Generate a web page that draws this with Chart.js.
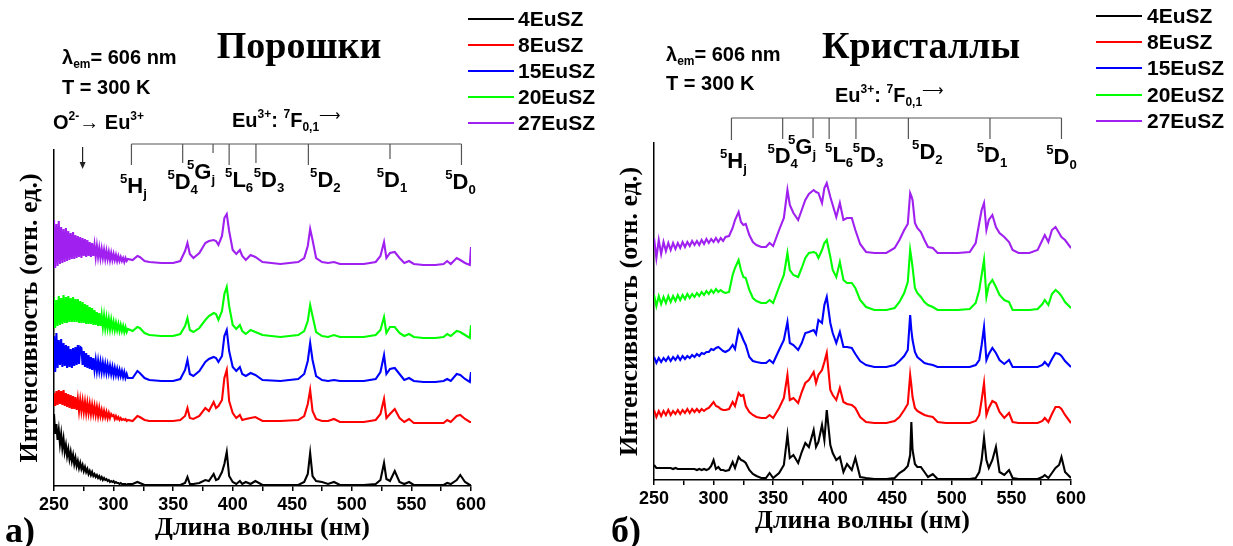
<!DOCTYPE html>
<html><head><meta charset="utf-8">
<script src="https://cdn.jsdelivr.net/npm/chart.js@4.4.0/dist/chart.umd.min.js"></script>
<style>
html,body{margin:0;padding:0;background:#fff;}
#wrap{position:relative;width:1233px;height:546px;overflow:hidden;font-family:"Liberation Sans",Arial,sans-serif;}
canvas{position:absolute;top:0;}
.t{position:absolute;white-space:nowrap;font-weight:bold;color:#000;}
.ann{font-size:20px;line-height:22px;}
.ttl{font-family:"Liberation Serif","Times New Roman",serif;font-size:38px;line-height:44px;transform:translate(-50%,-50%);}
.pan{font-family:"Liberation Serif","Times New Roman",serif;font-size:36px;line-height:40px;}
.t sup{font-size:0.6em;line-height:0;vertical-align:0.75em;}
.t sub{font-size:0.6em;line-height:0;vertical-align:-0.35em;}
.t .arr{font-size:15px;font-weight:normal;vertical-align:0.45em;line-height:0;}
.leg{font-size:21px;line-height:22px;}
.legline{position:absolute;height:2px;}
.term{font-size:22px;line-height:26px;transform:translate(-50%,-50%);}
</style></head><body>
<div id="wrap">
<canvas id="c1" width="615" height="546" style="left:0px"></canvas>
<canvas id="c2" width="633" height="546" style="left:600px"></canvas>
</div>
<script>
// ---------- data ----------
const sampleNames = ['4EuSZ','8EuSZ','15EuSZ','20EuSZ','27EuSZ'];
const xTickStep = 25;
const xLabelStep = 50;

const powderWavelengths = [250,251,252,253,254,255,256,257,258,259,260,261,262,263,264,265,266,267,268,269,270,271,272,273,274,275,276,277,278,279,280,281,282,283,284,285,286,287,288,289,290,291,292,293,294,295,296,297,298,299,300,301,302,303,304,305,306,307,308,309,310,311,312,
316,320,322,326,330,340,350,356,360,362,364,367,372,377,380,384,386,388,391,393,395,397,400,403,406,408,411,415,419,425,440,455,460,463,465,467,470,475,480,485,490,500,510,520,524,527,529,532,536,540,544,548,552,560,570,577,580,583,588,591,595,599,600];

const powder4EuSZ = [72,52,62,46,56,42,52,38,47,34, 41,30,37,27,34,25,31,22,28,20, 25,18,23,17,21,15,19,14,17,12, 15,11,14,10,12,9,11,8,10,7, 9,6,8,6,7,5,6,4,5,4, 5,3,4,3,3,2,3,2,2,2, 2,1,2,
2,4,3,1,1,1,1,1,3,9, 2,2,3,6,5,12,6,7,14,22, 34,10,4,2,5,2,4,2,5,1, 1,1,4,12,33,10,5,4,2,4, 1,1,1,2,6,23,7,5,15,4, 2,4,1,1,1,1,3,2,6,11, 4,1,1];
const powder8EuSZ = [93,80,95,81,96,82,95,81,96,80, 93,79,92,78,91,77,90,77,89,76, 87,75,86,75,85,74,84,73,83,73, 82,72,81,72,80,71,79,70,78,70, 76,69,75,69,74,68,73,68,72,70, 71,67,70,67,69,66,68,66,67,66, 67,65,66,
65,70,69,66,65,65,65,66,70,78, 68,67,70,78,75,84,78,80,86,108, 116,85,73,68,71,66,67,68,69,65, 65,66,70,82,96,75,67,65,65,67, 64,64,64,66,72,87,68,72,77,68, 64,67,63,63,63,63,66,64,70,71, 67,64,64];
const powder15EuSZ = [150,114,153,118,146,121,147,119,143,120, 141,118,140,119,137,118,138,120,139,121, 141,122,139,138,121,135,119,133,118,131, 117,129,116,128,116,126,115,125,115,124, 114,123,114,122,113,121,113,120,112,119, 111,118,111,117,110,116,110,115,109,114, 108,112,108,
108,115,113,108,106,105,105,107,116,126, 112,110,115,124,127,129,128,124,130,150, 156,135,119,115,119,112,110,113,111,106, 105,107,112,125,143,126,110,106,105,106, 105,105,105,107,114,131,112,117,118,112, 106,108,105,104,104,105,107,105,112,111, 107,104,114];
const powder20EuSZ = [189,158,186,160,190,161,188,162,191,163, 189,163,190,164,188,164,189,164,187,164, 187,163,185,163,184,163,182,162,181,162, 179,162,178,161,176,161,174,160,173,160, 171,159,170,158,168,158,167,157,166,157, 164,156,163,156,162,155,161,155,160,154, 159,154,157,
155,159,158,153,151,150,150,152,160,168, 156,154,158,166,170,173,172,166,175,192, 199,180,161,157,161,155,152,156,154,151, 149,151,155,165,181,170,154,150,149,151, 149,149,149,151,156,169,153,159,159,153, 150,152,149,148,148,149,152,150,155,154, 151,148,161];
const powder27EuSZ = [266,218,262,220,265,222,259,223,257,224, 258,225,255,226,253,227,254,227,251,228, 250,229,249,228,248,230,247,229,246,230, 244,229,243,230,241,229,240,229,238,228, 237,228,236,227,235,227,234,226,233,226, 232,226,231,225,230,225,229,225,228,224, 228,225,227,
226,230,229,225,224,223,223,225,235,243, 232,228,233,243,245,246,245,241,250,268, 272,255,236,232,236,230,226,231,229,224, 222,224,228,240,257,246,228,224,223,224, 222,222,222,224,230,244,228,233,234,228, 223,225,222,221,221,222,225,222,228,226, 223,221,239];

const crystalWavelengths = [250,252,254,256,258,260,262,264,266,268,270,272,274,276,278,280,282,284,286,288,290,292,294,296,298,300,302,304,306,308,310,
313,316,318,321,323,325,327,330,333,336, 340,344,347,350,355,359,362,364,367,371, 374,377,380,384,386,388,391,393,395,398, 400,403,406,409,412,416,419,423,428,435, 445,452,456,460,463,465,466,467,469,471, 474,477,480,484,488,495,505,515,520,523, 525,527,529,531,534,537,540,544,548,551, 556,565,572,576,578,581,584,587,590,592, 595,600];

const crystal4EuSZ = [15,12,12,12,12,12,12,12,11,12, 11,11,11,11,11,11,11,11,10,11, 10,11,10,11,14,20,11,13,10,10, 9,
10,18,12,23,20,19,17,10,6,4, 2,2,7,2,7,15,45,22,25,17, 28,37,33,50,33,38,55,40,70,35, 27,20,23,8,16,10,22,3,2,1, 1,2,7,10,14,25,58,30,16,13, 13,8,3,6,1,1,1,1,2,8, 20,42,20,12,20,33,8,5,10,2, 1,1,1,3,5,2,7,12,15,23, 8,2];
const crystal8EuSZ = [70,63,69,64,69,65,70,65,69,66, 70,66,70,67,71,67,71,68,71,68, 71,69,71,72,75,78,74,73,71,70, 70,
71,78,74,87,84,85,74,68,65,63, 62,62,65,62,72,82,105,80,82,77, 88,97,100,108,97,105,110,118,127,90, 85,80,92,78,76,75,72,63,58,57, 57,59,63,70,76,105,95,83,72,69, 67,65,64,63,58,57,57,57,59,65, 80,97,65,72,79,77,68,62,67,58, 57,57,57,59,62,58,66,73,73,71, 65,57];
const crystal15EuSZ = [123,117,122,118,122,119,123,119,123,120, 124,120,124,121,124,122,125,123,126,124, 127,126,128,128,131,130,132,133,131,129, 128,
130,135,131,150,146,140,135,123,119,118, 117,117,120,117,130,140,158,137,135,130, 137,147,148,150,146,160,157,175,183,157, 147,137,148,133,133,132,126,119,115,113, 113,115,119,124,130,165,150,140,128,123, 120,117,116,115,113,113,113,113,115,120, 135,153,120,126,132,127,120,116,120,113, 113,113,113,115,118,114,121,127,126,124, 119,113];
const crystal20EuSZ = [185,174,184,176,183,177,184,178,184,179, 185,180,185,181,186,182,186,183,187,184, 188,185,189,186,190,187,191,188,190,188, 187,
188,205,212,220,210,203,202,190,182,179, 177,177,180,177,193,205,227,210,205,203, 212,222,227,228,227,222,230,237,240,223, 210,203,218,200,197,197,192,180,173,170, 170,172,178,187,198,230,222,213,192,187, 183,178,175,173,170,170,170,171,177,190, 205,220,183,195,200,193,185,180,178,170, 170,170,171,176,180,175,186,190,187,184, 178,172];
const crystal27EuSZ = [242,222,240,226,238,229,237,230,237,231, 237,232,238,233,238,234,239,235,239,235, 240,236,241,237,241,238,242,238,242,239, 243,
244,252,260,268,258,255,256,245,238,235, 233,233,237,234,250,262,290,275,267,260, 270,280,286,290,288,287,277,292,297,283, 275,263,277,260,262,262,250,236,228,227, 227,232,240,250,256,287,284,280,257,252, 248,240,233,232,227,227,227,228,237,257, 270,277,250,260,265,253,247,243,238,230, 227,227,230,240,245,238,250,253,247,243, 240,232];

// Eu3+ 7F0,1 -> term positions (nm) for the annotation bracket
const termWavelengths = [315, 358, 383.5, 397, 419.5, 463.5, 532, 592];
const termLetters = ['H','D','G','L','D','D','D','D'];
const termSubs = ['j','4','j','6','3','2','1','0'];
const chargeTransferWavelength = 274;

// ---------- styles ----------
const seriesColors = ['#000000','#ff0000','#0000ff','#00ff00','#a020f0'];
const wrap = document.getElementById('wrap');

const bracketPlugin = {
  id: 'bracket',
  afterDraw(chart, args, o) {
    const xs = chart.scales.x, ctx = chart.ctx;
    const px = termWavelengths.map(w => xs.getPixelForValue(w));
    ctx.save();
    ctx.strokeStyle = '#555'; ctx.lineWidth = 1.2;
    ctx.beginPath();
    ctx.moveTo(px[0], o.y); ctx.lineTo(px[px.length - 1], o.y);
    px.forEach((p, i) => { ctx.moveTo(p, o.y); ctx.lineTo(p, o.y + o.len[i]); });
    ctx.stroke();
    if (o.arrow) {
      const ax = xs.getPixelForValue(chargeTransferWavelength);
      ctx.strokeStyle = '#222'; ctx.fillStyle = '#222'; ctx.lineWidth = 1.2;
      ctx.beginPath(); ctx.moveTo(ax, o.arrow[0]); ctx.lineTo(ax, o.arrow[1] - 5); ctx.stroke();
      ctx.beginPath(); ctx.moveTo(ax - 3, o.arrow[1] - 7); ctx.lineTo(ax + 3, o.arrow[1] - 7); ctx.lineTo(ax, o.arrow[1]); ctx.closePath(); ctx.fill();
    }
    ctx.restore();
  }
};

function makeChart(id, wl, seriesList, p) {
  const datasets = seriesList.map((s, i) => ({
    label: sampleNames[i],
    data: wl.map((x, j) => ({x: x, y: s[j]})),
    borderColor: seriesColors[i],
    borderWidth: 2.1,
    pointRadius: 0,
    fill: false,
    tension: 0
  }));
  return new Chart(document.getElementById(id), {
    type: 'line',
    data: {datasets: datasets},
    plugins: [bracketPlugin],
    options: {
      responsive: false,
      animation: false,
      events: [],
      layout: {padding: {top: p.top, right: p.right, left: 0, bottom: 0}},
      plugins: {
        legend: {display: false},
        tooltip: {enabled: false},
        bracket: {y: p.bracketY, len: p.len, arrow: p.arrow}
      },
      scales: {
        x: {
          type: 'linear', min: 250, max: 600, position: 'bottom',
          afterFit: s => { s.height = p.xh; },
          border: {display: true, color: '#000', width: 1.5},
          grid: {display: true, drawOnChartArea: false, drawTicks: true, tickLength: 5, color: '#000', lineWidth: 1.5},
          ticks: {stepSize: xTickStep, autoSkip: false, maxRotation: 0, color: '#000', padding: 3,
            font: {family: 'Liberation Sans', weight: 'bold', size: 18},
            callback: v => (v % xLabelStep === 0 ? String(v) : '')},
          title: {display: true, text: 'Длина волны (нм)', color: '#000',
            font: {family: 'Liberation Serif', weight: 'bold', size: 26}, padding: {top: 0, bottom: p.titleB}}
        },
        y: {
          min: 0, max: p.ymax, position: 'left',
          afterFit: s => { s.width = 54; },
          border: {display: true, color: '#000', width: 1.5},
          grid: {display: false},
          ticks: {display: false},
          title: {display: true, text: 'Интенсивность (отн. ед.)', color: '#000',
            font: {family: 'Liberation Serif', weight: 'bold', size: 26}, padding: {top: 15, bottom: 0}}
        }
      }
    }
  });
}

const chart1 = makeChart('c1', powderWavelengths,
  [powder4EuSZ, powder8EuSZ, powder15EuSZ, powder20EuSZ, powder27EuSZ],
  {top: 150, right: 144, xh: 60, ymax: 336, titleB: 2, bracketY: 144,
   len: [21, 19, 9, 21, 19, 21, 15, 21], arrow: [147, 169]});
const chart2 = makeChart('c2', crystalWavelengths,
  [crystal4EuSZ, crystal8EuSZ, crystal15EuSZ, crystal20EuSZ, crystal27EuSZ],
  {top: 143, right: 162, xh: 66, ymax: 337, titleB: 9, bracketY: 118,
   len: [22, 21, 20, 21, 21, 21, 21, 21], arrow: null});

// ---------- text overlays ----------
function addText(html, cls, left, top) {
  const d = document.createElement('div');
  d.className = 't ' + cls;
  d.innerHTML = html;
  d.style.left = left + 'px';
  d.style.top = top + 'px';
  wrap.appendChild(d);
  return d;
}
function addLegend(x1, len, textX, rows) {
  sampleNames.forEach((n, i) => {
    const l = document.createElement('div');
    l.className = 'legline';
    l.style.left = x1 + 'px'; l.style.width = len + 'px';
    l.style.top = (rows[i] - 1) + 'px';
    l.style.background = seriesColors[i];
    wrap.appendChild(l);
    addText(n, 'leg', textX, rows[i] - 11);
  });
}
function placeTerms(chart, offsetLeft, dx, ys) {
  const xs = chart.scales.x;
  termWavelengths.forEach((w, i) => {
    addText('<sup>5</sup>' + termLetters[i] + '<sub>' + termSubs[i] + '</sub>', 'term',
      offsetLeft + xs.getPixelForValue(w) + dx[i], ys[i]);
  });
}

// panel a
addText('Порошки', 'ttl', 299, 45);
addText('λ<sub>em</sub>= 606 nm', 'ann', 62, 46);
addText('T = 300 K', 'ann', 62, 76);
addText('O<sup>2-</sup>→ Eu<sup>3+</sup>', 'ann', 53, 111);
addText('Eu<sup>3+</sup>: <sup>7</sup>F<sub>0,1</sub><span class="arr">⟶</span>', 'ann', 232, 109);
addLegend(468, 46, 518, [19, 45, 71, 97, 123]);
placeTerms(chart1, 0, [2, 0, -12, 10, 13, 17, 2, -1], [186, 182, 172, 180, 180, 180, 180, 182]);
addText('а)', 'pan', 5, 510);

// panel b
addText('Кристаллы', 'ttl', 921, 45);
addText('λ<sub>em</sub>= 606 nm', 'ann', 666, 43);
addText('T = 300 K', 'ann', 666, 72);
addText('Eu<sup>3+</sup>: <sup>7</sup>F<sub>0,1</sub><span class="arr">⟶</span>', 'ann', 835, 84);
addLegend(1096, 46, 1147, [16, 42, 68, 95, 121]);
placeTerms(chart2, 600, [2, 0, -11, 10, 12, 19, 2, 0], [161, 156, 147, 155, 155, 152, 155, 157]);
addText('б)', 'pan', 611, 510);
</script>
</body></html>
